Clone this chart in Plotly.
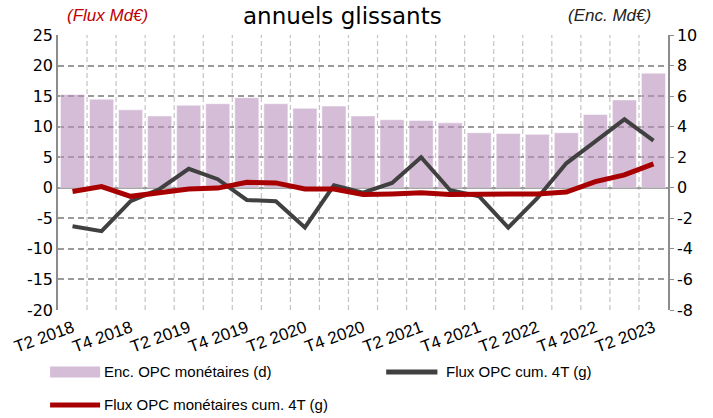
import plotly.graph_objects as go

# Quarterly series, T2 2018 -> T2 2023
quarters = [
    "T2 2018", "T3 2018", "T4 2018", "T1 2019", "T2 2019", "T3 2019", "T4 2019",
    "T1 2020", "T2 2020", "T3 2020", "T4 2020", "T1 2021", "T2 2021", "T3 2021",
    "T4 2021", "T1 2022", "T2 2022", "T3 2022", "T4 2022", "T1 2023", "T2 2023",
]
# Outstanding money-market fund assets (right axis, Md€)
enc_opc_monetaires = [6.1, 5.8, 5.1, 4.7, 5.4, 5.5, 5.9, 5.5, 5.2, 5.35, 4.7,
                      4.45, 4.4, 4.25, 3.6, 3.55, 3.5, 3.6, 4.8, 5.75, 7.5]
# Rolling 4-quarter flows (left axis, Md€)
flux_opc_cum4t = [-6.3, -7.1, -2.2, -0.2, 3.1, 1.4, -2.0, -2.2, -6.5, 0.4, -0.8,
                  0.8, 5.0, -0.4, -1.4, -6.5, -1.7, 4.0, 7.6, 11.2, 7.7]
flux_monetaires_cum4t = [-0.6, 0.2, -1.4, -0.9, -0.2, -0.05, 0.9, 0.8, -0.2, -0.2, -1.1,
                         -1.0, -0.8, -1.1, -1.1, -0.9, -1.0, -0.7, 1.0, 2.1, 3.9]

# Axis tick values (labels written with a plain hyphen for negatives)
left_ticks = [-20, -15, -10, -5, 0, 5, 10, 15, 20, 25]
right_ticks = [-8, -6, -4, -2, 0, 2, 4, 6, 8, 10]

x = list(range(len(quarters)))

BAR_COLOR = "rgba(185,143,188,0.6)"
BAR_SWATCH = "#d5bcd7"
GREY_LINE = "#404040"
RED_LINE = "#a80000"
TICK_FONT = dict(family="DejaVu Sans, Verdana, sans-serif", size=16, color="#000")
NARROW = "Liberation Sans Narrow, Liberation Sans, Arial Narrow, sans-serif"
GRID = "#9a9a9a"

fig = go.Figure()
# bars sit on the base (right-hand) axis so the flow lines are drawn over them
fig.add_trace(go.Bar(
    x=x, y=enc_opc_monetaires, yaxis="y", name="Enc. OPC monétaires (d)",
    marker=dict(color=BAR_COLOR, line=dict(color="rgba(255,255,255,0.5)", width=1)),
    showlegend=False,
))
fig.add_trace(go.Scatter(
    x=x, y=flux_opc_cum4t, yaxis="y2", mode="lines", name="Flux OPC cum. 4T (g)",
    line=dict(color=GREY_LINE, width=4), showlegend=False,
))
fig.add_trace(go.Scatter(
    x=x, y=flux_monetaires_cum4t, yaxis="y2", mode="lines",
    name="Flux OPC monétaires cum. 4T (g)",
    line=dict(color=RED_LINE, width=5), showlegend=False,
))

# vertical dashed separators between quarters
shapes = []
for i in range(len(quarters) - 1):
    shapes.append(dict(type="line", xref="x", yref="paper", x0=i + 0.5, x1=i + 0.5,
                       y0=0, y1=1, layer="below",
                       line=dict(color="#c4c4c4", width=1.2, dash="5px,3px")))

# legend drawn underneath the plot
leg_y1 = -0.225
leg_y2 = -0.345
shapes += [
    dict(type="rect", xref="paper", yref="paper", x0=-0.013, x1=0.069,
         y0=leg_y1 - 0.02, y1=leg_y1 + 0.02, fillcolor=BAR_SWATCH, line=dict(width=0)),
    dict(type="line", xref="paper", yref="paper", x0=0.538, x1=0.622,
         y0=leg_y1, y1=leg_y1, line=dict(color=GREY_LINE, width=5)),
    dict(type="line", xref="paper", yref="paper", x0=-0.013, x1=0.069,
         y0=leg_y2, y1=leg_y2, line=dict(color=RED_LINE, width=5)),
]
legend_font = dict(family=NARROW, size=15, color="#000")
annotations = [
    dict(text="Enc. OPC monétaires (d)", xref="paper", yref="paper", x=0.072, y=leg_y1,
         xanchor="left", yanchor="middle", showarrow=False, font=legend_font),
    dict(text="Flux OPC cum. 4T (g)", xref="paper", yref="paper", x=0.632, y=leg_y1,
         xanchor="left", yanchor="middle", showarrow=False, font=legend_font),
    dict(text="Flux OPC monétaires cum. 4T (g)", xref="paper", yref="paper", x=0.072, y=leg_y2,
         xanchor="left", yanchor="middle", showarrow=False, font=legend_font),
    dict(text="annuels glissants", xref="paper", yref="paper", x=0.466, y=1.124,
         xanchor="center", yanchor="top", showarrow=False,
         font=dict(family="DejaVu Sans, Verdana, sans-serif", size=23, color="#000")),
    dict(text="<i>(Flux Md€)</i>", xref="paper", yref="paper", x=0.012, y=1.03,
         xanchor="left", yanchor="bottom", showarrow=False,
         font=dict(family=NARROW, size=17, color="#c00000")),
    dict(text="<i>(Enc. Md€)</i>", xref="paper", yref="paper", x=0.975, y=1.03,
         xanchor="right", yanchor="bottom", showarrow=False,
         font=dict(family=NARROW, size=17, color="#222")),
]

fig.update_layout(
    width=713, height=418,
    margin=dict(l=55, r=45, t=35, b=108),
    paper_bgcolor="white", plot_bgcolor="white",
    bargap=0.17,
    shapes=shapes, annotations=annotations,
    xaxis=dict(
        range=[-0.5, len(quarters) - 0.5],
        tickvals=x[::2], ticktext=quarters[::2], tickangle=-20,
        tickfont=dict(family=NARROW, size=17, color="#000"),
        ticklabelstandoff=4,
        showgrid=False, zeroline=False, showline=False, ticks="",
    ),
    # right-hand axis: outstanding amounts, carries the horizontal grid
    yaxis=dict(
        range=[right_ticks[0], right_ticks[-1]],
        tickvals=right_ticks, ticktext=[str(v) for v in right_ticks],
        side="right", tickfont=TICK_FONT,
        showgrid=True, gridcolor=GRID, gridwidth=1.5, griddash="6px,4px",
        zeroline=True, zerolinecolor=GRID, zerolinewidth=1.5,
        showline=True, linecolor="#8c8c8c", linewidth=1.5,
        ticks="outside", ticklen=4, tickcolor="#8c8c8c",
    ),
    # left-hand axis: flows
    yaxis2=dict(
        range=[left_ticks[0], left_ticks[-1]],
        tickvals=left_ticks, ticktext=[str(v) for v in left_ticks],
        overlaying="y", side="left", tickfont=TICK_FONT,
        showgrid=False, zeroline=False,
        showline=True, linecolor="#8c8c8c", linewidth=1.5, ticks="",
    ),
)

fig.write_html("out.html")
